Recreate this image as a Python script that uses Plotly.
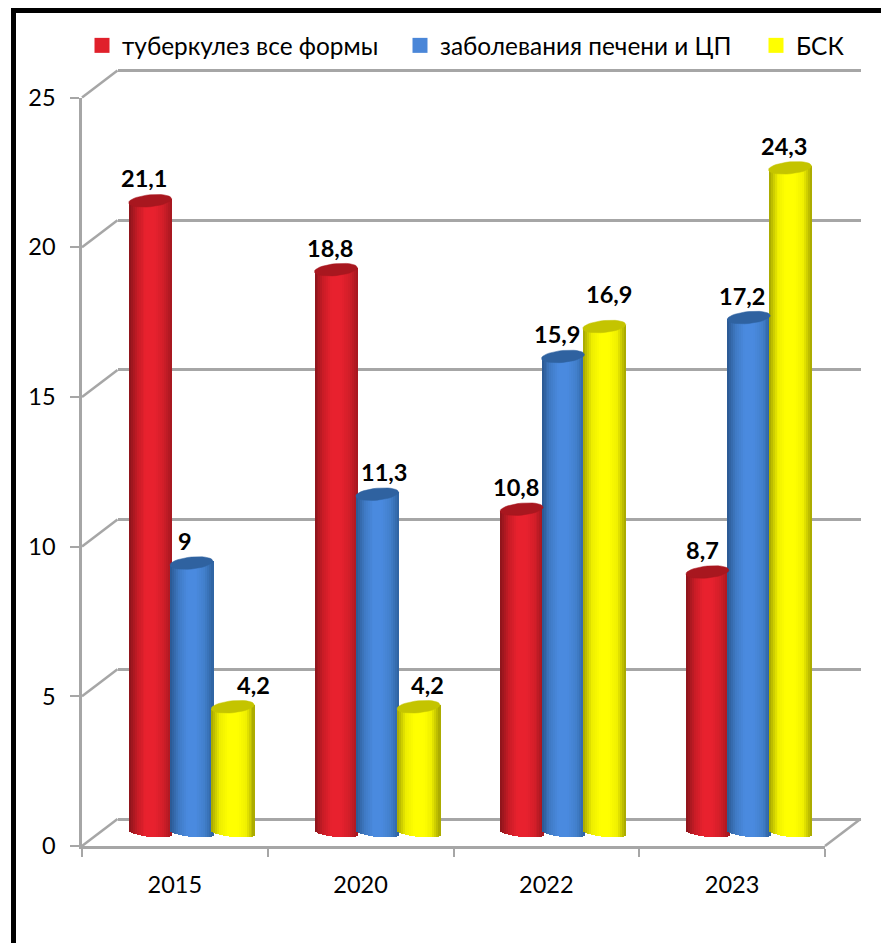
import math
import plotly.graph_objects as go

# ---- data ----
years = ["2015", "2020", "2022", "2023"]
series_names = ["туберкулез все формы", "заболевания печени и ЦП", "БСК"]
tb_values = [21.1, 18.8, 10.8, 8.7]
liver_values = [9.0, 11.3, 15.9, 17.2]
bsk_values = [4.2, 4.2, 16.9, 22.2]   # drawn heights as seen
tb_labels = ["21,1", "18,8", "10,8", "8,7"]
liver_labels = ["9", "11,3", "15,9", "17,2"]
bsk_labels = ["4,2", "4,2", "16,9", "24,3"]
y_ticks = [0, 5, 10, 15, 20, 25]

# ---- styling / layout constants (pixels in the 881x943 page) ----
W, H = 881, 943
FONT = "Lato, Carlito, 'Noto Sans', sans-serif"
GRAY = "#A6A6A6"
FX0, FX1, FY0, FY25 = 82.0, 825.0, 846.0, 97.5        # front axes
DX, DY = 35.5, -27.0                                  # depth of the floor
PX_PER_UNIT = (FY0 - FY25) / 25
PX_PER_CAT = (FX1 - FX0) / 4
BAR_PX = 43.0
STEP = 41.3 / PX_PER_CAT
BAR_W = BAR_PX / PX_PER_CAT
N_STRIPS = 22
CAP_RY, BASE_RY, TILT = 6.0, 4.5, 2.0                  # px

styles = [
    dict(stops=["#8A141B", "#C81C26", "#E8212E", "#E8212E", "#D21E29", "#A3171F"], cap="#A8171F", key="#E0202B"),
    dict(stops=["#2A5790", "#3F7AC4", "#4A8ADF", "#4A8ADF", "#4280CC", "#2E619F"], cap="#2F62A0", key="#4A86D8"),
    dict(stops=["#A3A300", "#EEEE00", "#FFFF00", "#FFFF00", "#F0F000", "#A3A300"], cap="#C4C400", key="#FFFF00"),
]
# label nudges (px) relative to the bar top: dx, dy
label_nudge = [
    [(-6, -23), (-6, -22), (-6, -22), (-5, -22)],
    [(-6, -22), (7, -22), (-6, -22), (-7, -22)],
    [(21, -22), (9, -22), (5, -33), (-6, -22)],
]


def hex_mix(stops, t):
    t = max(0.0, min(1.0, t)) * (len(stops) - 1)
    i = min(int(t), len(stops) - 2)
    f = t - i
    a = [int(stops[i][k:k + 2], 16) for k in (1, 3, 5)]
    b = [int(stops[i + 1][k:k + 2], 16) for k in (1, 3, 5)]
    return "rgb(%d,%d,%d)" % tuple(round(p + (q - p) * f) for p, q in zip(a, b))


fig = go.Figure()
all_values = [tb_values, liver_values, bsk_values]
all_labels = [tb_labels, liver_labels, bsk_labels]
annotations = []

for s, (vals, labs, st) in enumerate(zip(all_values, all_labels, styles)):
    xc = [i + (s - 1) * STEP for i in range(len(vals))]
    # cylinder body: thin bars across the width, each with elliptical foot
    for k in range(N_STRIPS):
        u = (k + 0.5) / N_STRIPS * 2 - 1
        bx = [c + u * BAR_W / 2 for c in xc]
        foot = -(BASE_RY * math.sqrt(1 - u * u) + TILT * u) / PX_PER_UNIT
        tops = [v + TILT * u / PX_PER_UNIT for v in vals]
        fig.add_trace(go.Bar(
            x=bx, y=[t - foot for t in tops], base=foot,
            width=BAR_W / N_STRIPS * 1.25,
            marker=dict(color=hex_mix(st["stops"], (u + 1) / 2), line=dict(width=0)),
            xaxis="x3", yaxis="y3", showlegend=False, hoverinfo="skip",
        ))
    # cylinder cap
    cx, cy = [], []
    for c, v in zip(xc, vals):
        for a in range(0, 361, 10):
            ca, sa = math.cos(math.radians(a)), math.sin(math.radians(a))
            cx.append(c + ca * BAR_W / 2)
            cy.append(v + (sa * CAP_RY + ca * TILT) / PX_PER_UNIT)
        cx.append(None)
        cy.append(None)
    fig.add_trace(go.Scatter(
        x=cx, y=cy, mode="lines", fill="toself", fillcolor=st["cap"],
        line=dict(width=0.5, color=st["cap"]), xaxis="x3", yaxis="y3",
        showlegend=False, hoverinfo="skip",
    ))
    # legend key
    fig.add_trace(go.Scatter(
        x=[None], y=[None], mode="markers", name=series_names[s],
        marker=dict(symbol="square", size=15, color=st["key"]),
        xaxis="x3", yaxis="y3", showlegend=True,
        legend="legend" if s == 0 else f"legend{s + 1}",
    ))
    for c, v, lab, (ndx, ndy) in zip(xc, vals, labs, label_nudge[s]):
        annotations.append(dict(
            x=c, y=v, xref="x3", yref="y3", text=f"<b>{lab}</b>", showarrow=False,
            xshift=ndx, yshift=-ndy, font=dict(family=FONT, size=23.5, color="black"),
        ))

# invisible traces that make the wall and the front axes exist
fig.add_trace(go.Scatter(x=[None], y=[None], xaxis="x", yaxis="y", showlegend=False, hoverinfo="skip"))
fig.add_trace(go.Scatter(x=[None], y=[None], xaxis="x2", yaxis="y2", showlegend=False, hoverinfo="skip"))


def xdom(a, b):
    return [a / W, b / W]


def ydom(bottom_px, top_px):
    return [1 - bottom_px / H, 1 - top_px / H]


cats = list(range(len(years)))
bounds = [c - 0.5 for c in cats] + [cats[-1] + 0.5]
x_range = [-0.5, len(years) - 0.5]

# diagonal floor/wall connectors
shapes = []
for v in y_ticks:
    py = FY0 - v * PX_PER_UNIT
    shapes.append(dict(type="line", xref="paper", yref="paper",
                       x0=FX0 / W, y0=1 - py / H, x1=(FX0 + DX) / W, y1=1 - (py + DY) / H,
                       line=dict(color=GRAY, width=2.5), layer="below"))
shapes.append(dict(type="line", xref="paper", yref="paper",
                   x0=FX1 / W, y0=1 - FY0 / H, x1=(FX1 + DX) / W, y1=1 - (FY0 + DY) / H,
                   line=dict(color=GRAY, width=2.5), layer="below"))
# black frame on the left and the top
shapes.append(dict(type="rect", xref="paper", yref="paper", x0=11 / W, x1=16 / W, y0=0, y1=1 - 8 / H,
                   fillcolor="black", line=dict(width=0), layer="above"))
shapes.append(dict(type="rect", xref="paper", yref="paper", x0=11 / W, x1=1, y0=1 - 13 / H, y1=1 - 8 / H,
                   fillcolor="black", line=dict(width=0), layer="above"))

bars_bottom_v = -1.0
bars_top_v = 25.0
mid_zero = FY0 + DY / 2
bars_dx = DX / 2 - 1.2
WALL_PAD = 1.0   # wall axis runs a little beyond 0..25 so both edge gridlines are drawn
wall_zero = FY0 + DY


def legend_at(px, py):
    return dict(x=px / W, y=1 - py / H, xanchor="left", yanchor="middle", orientation="h",
                bgcolor="rgba(0,0,0,0)", borderwidth=0, itemclick=False, itemdoubleclick=False,
                font=dict(family=FONT, size=24.4, color="black"))


fig.update_layout(
    width=W, height=H, autosize=False,
    margin=dict(l=0, r=0, t=0, b=0, pad=0, autoexpand=False),
    paper_bgcolor="white", plot_bgcolor="rgba(0,0,0,0)",
    barmode="overlay", bargap=0,
    font=dict(family=FONT, size=23.5, color="black"),
    annotations=annotations, shapes=shapes, hovermode=False,
    legend=legend_at(82, 45.5), legend2=legend_at(400, 45.5), legend3=legend_at(756, 45.5),
    # back wall with gridlines
    xaxis=dict(domain=xdom(FX0 + DX, FX1 + DX), range=x_range, anchor="y", showgrid=False,
               zeroline=False, showticklabels=False, ticks="", showline=False),
    yaxis=dict(domain=ydom(wall_zero + WALL_PAD * PX_PER_UNIT, wall_zero - (25 + WALL_PAD) * PX_PER_UNIT),
               range=[-WALL_PAD, 25 + WALL_PAD], anchor="x", tickvals=y_ticks,
               showgrid=True, gridcolor=GRAY, gridwidth=2.5, zeroline=False,
               showticklabels=False, ticks="", showline=False),
    # front axes
    xaxis2=dict(domain=xdom(FX0, FX1), range=x_range, anchor="y2", showgrid=False, zeroline=False,
                showline=True, linecolor=GRAY, linewidth=2.5,
                tickvals=cats, ticktext=years, ticks="", ticklabelstandoff=16,
                tickfont=dict(family=FONT, size=23.5, color="black"),
                minor=dict(tickmode="array", tickvals=bounds, ticks="outside", ticklen=8,
                           tickwidth=2, tickcolor=GRAY)),
    yaxis2=dict(domain=ydom(FY0, FY25), range=[0, 25], anchor="x2", showgrid=False, zeroline=False,
                showline=True, linecolor=GRAY, linewidth=2.5, tickvals=y_ticks,
                ticks="outside", ticklen=9, tickwidth=2, tickcolor=GRAY, ticklabelstandoff=10,
                tickfont=dict(family=FONT, size=23.5, color="black")),
    # the cylinders stand half-way into the floor
    xaxis3=dict(domain=xdom(FX0 + bars_dx, FX1 + bars_dx), range=x_range, anchor="y3", visible=False),
    yaxis3=dict(domain=ydom(mid_zero - bars_bottom_v * PX_PER_UNIT, mid_zero - bars_top_v * PX_PER_UNIT),
                range=[bars_bottom_v, bars_top_v], anchor="x3", visible=False),
)

fig.write_html("out.html", config={"displayModeBar": False},
               post_script="document.body.style.margin='0';document.documentElement.style.overflow='hidden';")
